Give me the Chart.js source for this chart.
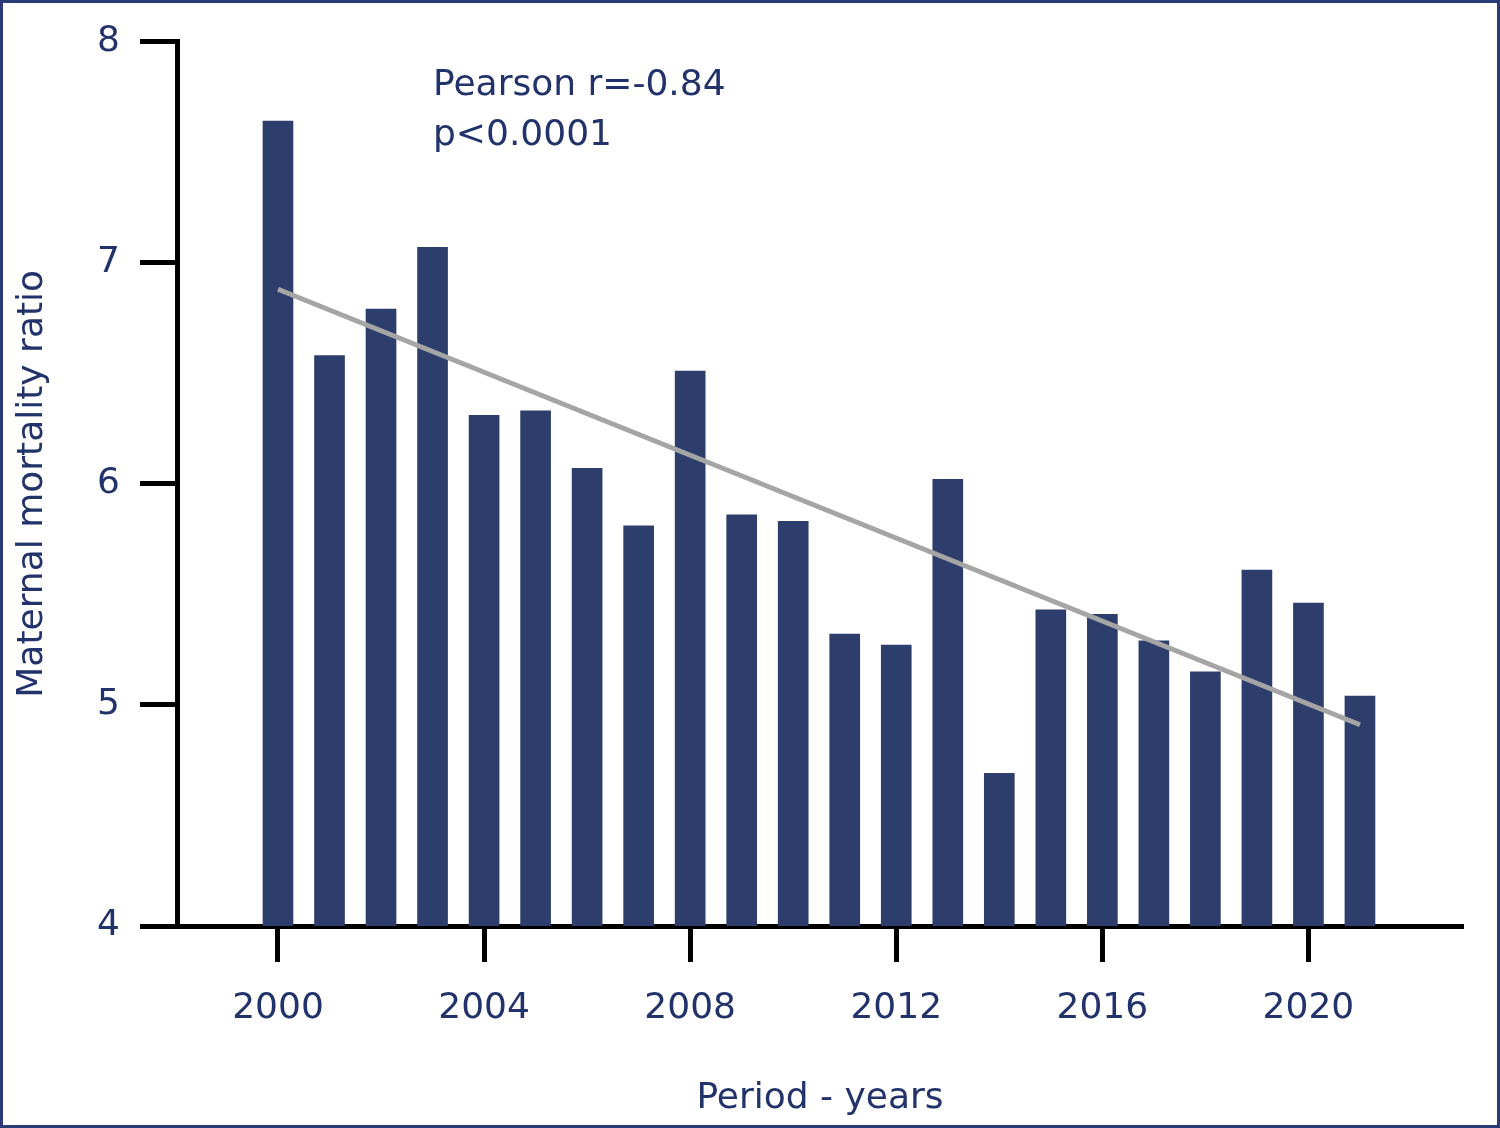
<!DOCTYPE html>
<html>
<head>
<meta charset="utf-8">
<script src="https://cdn.jsdelivr.net/npm/chart.js@4/dist/chart.umd.min.js"></script>
<style>
  html, body { margin: 0; padding: 0; background: #ffffff; }
  #wrap { width: 1500px; height: 1128px; position: relative; }
</style>
</head>
<body>
<div id="wrap"><canvas id="c" width="1500" height="1128"></canvas></div>
<script>
// Data
const years = [2000, 2001, 2002, 2003, 2004, 2005, 2006, 2007, 2008, 2009, 2010,
               2011, 2012, 2013, 2014, 2015, 2016, 2017, 2018, 2019, 2020, 2021];
const mortalityRatio = [7.64, 6.58, 6.79, 7.07, 6.31, 6.33, 6.07, 5.81, 6.51, 5.86, 5.83,
                        5.32, 5.27, 6.02, 4.69, 5.43, 5.41, 5.29, 5.15, 5.61, 5.46, 5.04];
const trendYears = [2000, 2021];
const trendValues = [6.88, 4.91];
const xTickYears = [2000, 2004, 2008, 2012, 2016, 2020];
const yTickValues = [4, 5, 6, 7, 8];
const annotationLines = ['Pearson r=-0.84', 'p<0.0001'];
const yTitle = 'Maternal mortality ratio';
const xTitle = 'Period - years';

const TEXT = '#22326a';
const BAR = '#2d3e6d';
const FONT = "'DejaVu Sans', sans-serif";

const framePlugin = {
  id: 'frame',
  afterDraw(chart) {
    const ctx = chart.ctx;
    ctx.save();
    ctx.strokeStyle = '#2b3b78';
    ctx.lineWidth = 3;
    ctx.strokeRect(1.5, 1.5, chart.width - 3, chart.height - 3);
    ctx.fillStyle = TEXT;
    ctx.font = '36px ' + FONT;
    ctx.textAlign = 'left';
    ctx.textBaseline = 'alphabetic';
    annotationLines.forEach((t, i) => ctx.fillText(t, 433, 95 + i * 50));
    ctx.restore();
  }
};

new Chart(document.getElementById('c'), {
  type: 'bar',
  data: {
    datasets: [
      {
        type: 'line',
        data: trendYears.map((x, i) => ({ x: x, y: trendValues[i] })),
        borderColor: '#a5a5a5',
        borderWidth: 5,
        pointRadius: 0,
        fill: false,
        order: 0
      },
      {
        type: 'bar',
        data: years.map((x, i) => ({ x: x, y: mortalityRatio[i] })),
        backgroundColor: BAR,
        borderWidth: 0,
        barThickness: 30,
        order: 1
      }
    ]
  },
  options: {
    responsive: false,
    animation: false,
    devicePixelRatio: 1,
    layout: { padding: { left: 0, right: 37, top: 40, bottom: 0 } },
    plugins: { legend: { display: false }, tooltip: { enabled: false } },
    scales: {
      x: {
        type: 'linear',
        min: 1998.04,
        max: 2023,
        offset: false,
        afterBuildTicks: s => { s.ticks = xTickYears.map(v => ({ value: v })); },
        afterFit: s => { s.height = 1128 - 926; },
        border: { display: true, color: '#000', width: 5 },
        grid: { display: true, drawOnChartArea: false, drawTicks: true, tickLength: 36, tickWidth: 5, tickColor: '#000', offset: false },
        ticks: { color: TEXT, font: { family: FONT, size: 36 }, padding: 25, maxRotation: 0, autoSkip: false, callback: v => String(v) },
        title: { display: true, text: xTitle, color: TEXT, font: { family: FONT, size: 36, lineHeight: 1.2 }, padding: { top: 0, bottom: 8 } }
      },
      y: {
        min: 4,
        max: 8,
        afterBuildTicks: s => { s.ticks = yTickValues.map(v => ({ value: v })); },
        afterFit: s => { s.width = 177; },
        border: { display: true, color: '#000', width: 5 },
        grid: { display: true, drawOnChartArea: false, drawTicks: true, tickLength: 37, tickWidth: 5, tickColor: '#000' },
        ticks: { color: TEXT, font: { family: FONT, size: 36 }, padding: 20, callback: v => String(v) },
        title: { display: true, text: yTitle, color: TEXT, font: { family: FONT, size: 36, lineHeight: 1.2 }, padding: { top: 11, bottom: 0 } }
      }
    }
  },
  plugins: [framePlugin]
});
</script>
</body>
</html>
